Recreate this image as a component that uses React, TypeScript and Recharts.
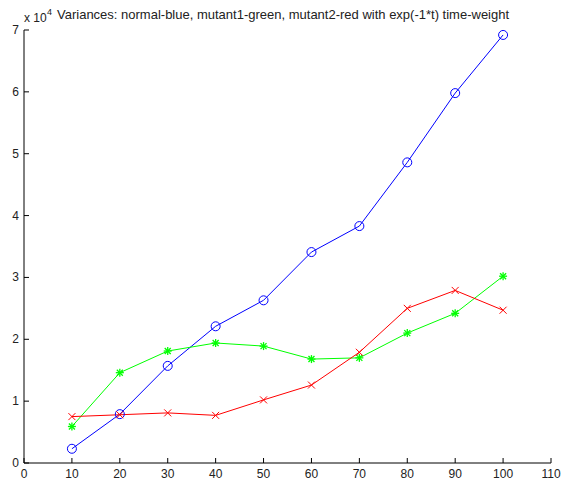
import React from "react";
import { LineChart, Line, XAxis, YAxis } from "recharts";

// x positions and variances (in units of 10^4)
const times = [10, 20, 30, 40, 50, 60, 70, 80, 90, 100];
const normal = [0.23, 0.79, 1.57, 2.21, 2.63, 3.41, 3.83, 4.86, 5.98, 6.92];
const mutant1 = [0.59, 1.46, 1.81, 1.94, 1.89, 1.68, 1.7, 2.1, 2.42, 3.02];
const mutant2 = [0.75, 0.78, 0.81, 0.77, 1.02, 1.26, 1.79, 2.5, 2.79, 2.47];

const xTicks = [0, 10, 20, 30, 40, 50, 60, 70, 80, 90, 100, 110];
const yTicks = [0, 1, 2, 3, 4, 5, 6, 7];

const title =
  "Variances: normal-blue, mutant1-green, mutant2-red with exp(-1*t) time-weight";

const data = times.map((t, i) => ({
  t,
  normal: normal[i],
  mutant1: mutant1[i],
  mutant2: mutant2[i],
}));

const FONT = "'Liberation Sans', Arial, sans-serif";

function XTick({ x, y, payload }: any) {
  return (
    <g>
      <line x1={x} x2={x} y1={y} y2={y - 5} stroke="#000" />
      <text x={x} y={y + 15} textAnchor="middle" fontSize={12} fill="#222" fontFamily={FONT}>
        {payload.value}
      </text>
    </g>
  );
}

function YTick({ x, y, payload }: any) {
  return (
    <g>
      <line x1={x} x2={x + 5} y1={y} y2={y} stroke="#000" />
      <text x={x - 5} y={y + 4} textAnchor="end" fontSize={12} fill="#222" fontFamily={FONT}>
        {payload.value}
      </text>
    </g>
  );
}

const circleDot = (p: any) => (
  <circle key={p.index} cx={p.cx} cy={p.cy} r={4.5} fill="none" stroke="#0000ff" />
);

const starDot = (p: any) => {
  const s = 4;
  const d = 3;
  return (
    <g key={p.index} stroke="#00ff00" strokeWidth={1.3}>
      <line x1={p.cx - s} x2={p.cx + s} y1={p.cy} y2={p.cy} />
      <line x1={p.cx} x2={p.cx} y1={p.cy - s} y2={p.cy + s} />
      <line x1={p.cx - d} x2={p.cx + d} y1={p.cy - d} y2={p.cy + d} />
      <line x1={p.cx - d} x2={p.cx + d} y1={p.cy + d} y2={p.cy - d} />
    </g>
  );
};

const crossDot = (p: any) => {
  const d = 3.5;
  return (
    <g key={p.index} stroke="#ff0000" strokeWidth={1}>
      <line x1={p.cx - d} x2={p.cx + d} y1={p.cy - d} y2={p.cy + d} />
      <line x1={p.cx - d} x2={p.cx + d} y1={p.cy + d} y2={p.cy - d} />
    </g>
  );
};

export default function App() {
  return (
    <div style={{ position: "absolute", left: 0, top: 0, width: 564, height: 487, background: "#fff" }}>
      <LineChart
        width={564}
        height={487}
        data={data}
        margin={{ top: 30, right: 13, bottom: 0, left: 0 }}
      >
        <XAxis
          dataKey="t"
          type="number"
          domain={[0, 110]}
          ticks={xTicks}
          height={24}
          tickSize={0}
          tickMargin={0}
          tick={<XTick />}
          axisLine={{ stroke: "#000" }}
          interval={0}
        />
        <YAxis
          type="number"
          domain={[0, 7]}
          ticks={yTicks}
          width={24}
          tickSize={0}
          tickMargin={0}
          tick={<YTick />}
          axisLine={{ stroke: "#000" }}
          interval={0}
        />
        <Line dataKey="normal" stroke="#0000ff" strokeWidth={1} dot={circleDot} isAnimationActive={false} />
        <Line dataKey="mutant1" stroke="#00ff00" strokeWidth={1} dot={starDot} isAnimationActive={false} />
        <Line dataKey="mutant2" stroke="#ff0000" strokeWidth={1} dot={crossDot} isAnimationActive={false} />
      </LineChart>
      <svg
        width={564}
        height={30}
        style={{ position: "absolute", left: 0, top: 0, pointerEvents: "none" }}
        fontFamily={FONT}
      >
        <text x={24} y={22} fontSize={12} fill="#222">
          x 10
        </text>
        <text x={47} y={15} fontSize={9} fill="#222">
          4
        </text>
        <text x={57} y={19} fontSize={13} fill="#222">
          {title}
        </text>
      </svg>
    </div>
  );
}
